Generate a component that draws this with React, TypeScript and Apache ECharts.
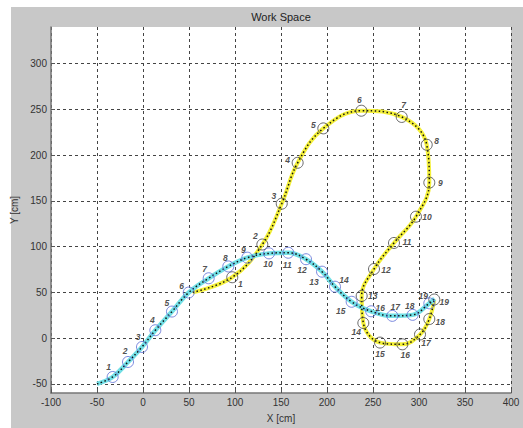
import React, { useEffect, useRef } from "react";
import * as echarts from "echarts";

const xTicks = [-100, -50, 0, 50, 100, 150, 200, 250, 300, 350, 400];
const yTicks = [-50, 0, 50, 100, 150, 200, 250, 300];

// cyan trajectory (blue circle markers 1..19)
const cyanStart = [-50, -50];
const cyanMarkers = [
  [-33, -42.5], [-16.3, -26.1], [-1.1, -9.7], [13.4, 8.6], [31.5, 29],
  [49.7, 49.8], [71.4, 65.4], [92.7, 78.3], [113.4, 87.9], [137, 92.6],
  [157.9, 93.3], [177.2, 86.2], [194.6, 72.6], [208.7, 56.2], [226.8, 39.7],
  [248, 29.3], [271, 24.3], [293.1, 25.4], [311.2, 38],
];
const cyanEnd = [317, 43];

// yellow trajectory (black circle markers 1..19)
const yellowStart = [54, 50];
const yellowMarkers = [
  [97, 66.5], [129.7, 102.3], [150.8, 146.9], [168.1, 191.6], [196, 229.2],
  [237.3, 248.5], [281.2, 241.7], [308.4, 211.3], [311.2, 169.9], [296.7, 132.7],
  [272.8, 104], [251.1, 75.5], [237.7, 46.1], [239.5, 16.5], [257.6, -4.9],
  [281.9, -6.8], [301.1, 4], [311.2, 20.8], [316.6, 42.2],
];

// label offsets (pixels) of the point numbers
const cyanLabelOffsets = [
  [-4, -10], [-3, -11], [-4, -10], [-3, -10], [-5, -9], [-7, -7], [-4, -9],
  [-3, -8], [-4, -8], [-1, 11], [-1, 12], [-4, 11], [-8, 10], [9, -7],
  [-11, 9], [9, -3], [3, -9], [-3, -9], [-6, -7],
];
const yellowLabelOffsets = [
  [8, 7], [-7, -8], [-8, -8], [-10, -3], [-10, -3], [-2, -11], [2, -12],
  [10, -4], [11, 0], [11, 0], [13, -1], [12, 1], [11, 0], [-7, 9],
  [0, 11], [3, 11], [6, 9], [11, 3], [10, 3],
];

const FONT = "Liberation Sans, Arial, sans-serif";

function markerSeries(pts: number[][], offs: number[][], color: string) {
  return {
    type: "scatter",
    z: 5,
    symbol: "circle",
    symbolSize: 11,
    itemStyle: { color: "rgba(0,0,0,0)", borderColor: color, borderWidth: 1 },
    label: {
      show: true,
      position: "inside",
      fontSize: 8.5,
      fontStyle: "italic",
      fontWeight: "bold",
      fontFamily: FONT,
      color: "#222",
    },
    data: pts.map((p, i) => ({
      value: p,
      label: { offset: offs[i], formatter: String(i + 1) },
    })),
  };
}

export default function App() {
  const ref = useRef<HTMLDivElement>(null);
  useEffect(() => {
    if (!ref.current) return;
    const chart = echarts.init(ref.current, null, { renderer: "svg" });
    const cyanLine = [cyanStart, ...cyanMarkers, cyanEnd];
    const yellowLine = [yellowStart, ...yellowMarkers];
    const axisText = { color: "#333", fontSize: 10, fontFamily: FONT };
    chart.setOption({
      animation: false,
      backgroundColor: "#fff",
      graphic: [
        {
          type: "rect",
          z: -10,
          silent: true,
          shape: { x: 11, y: 7, width: 512, height: 421 },
          style: { fill: "#c8c8c8" },
        },
        {
          type: "text",
          x: 281,
          y: 17,
          style: {
            text: "Work Space",
            fill: "#222",
            fontSize: 11,
            fontFamily: FONT,
            textAlign: "center",
            textVerticalAlign: "middle",
          },
        },
      ],
      grid: {
        left: 51,
        top: 27,
        width: 460,
        height: 373,
        show: true,
        backgroundColor: "#fff",
        borderWidth: 0,
      },
      xAxis: {
        type: "value",
        min: -100,
        max: 400,
        interval: 50,
        name: "X [cm]",
        nameLocation: "middle",
        nameGap: 20,
        nameTextStyle: axisText,
        axisLine: { show: true, onZero: false, lineStyle: { color: "#777", width: 1.5 } },
        axisTick: { show: true, inside: true, length: 4, lineStyle: { color: "#555" } },
        axisLabel: { ...axisText, margin: 4, formatter: (v: number) => String(v) },
        splitLine: {
          show: true,
          lineStyle: { color: "#444", type: [3, 3], width: 1 },
        },
      },
      yAxis: {
        type: "value",
        min: -60,
        max: 340,
        name: "Y [cm]",
        nameLocation: "middle",
        nameGap: 22,
        nameRotate: 90,
        nameTextStyle: axisText,
        axisLine: { show: true, onZero: false, lineStyle: { color: "#777", width: 1.5 } },
        axisTick: {
          show: true,
          inside: true,
          length: 4,
          customValues: yTicks,
          lineStyle: { color: "#555" },
        },
        axisLabel: { ...axisText, margin: 4, customValues: yTicks },
        splitLine: {
          show: true,
          lineStyle: { color: "#444", type: [3, 3], width: 1 },
        },
      },
      series: [
        {
          type: "line",
          data: yellowLine,
          smooth: 0.4,
          symbol: "none",
          lineStyle: { color: "#f4f03a", width: 4 },
          z: 2,
        },
        {
          type: "line",
          data: yellowLine,
          smooth: 0.4,
          symbol: "none",
          lineStyle: { color: "#111", width: 1.5, type: [1.5, 2.5] },
          z: 3,
        },
        {
          type: "line",
          data: cyanLine,
          smooth: 0.4,
          symbol: "none",
          lineStyle: { color: "#72e0e6", width: 4.5 },
          z: 2,
        },
        {
          type: "line",
          data: cyanLine,
          smooth: 0.4,
          symbol: "none",
          lineStyle: { color: "#111", width: 1.5, type: [1.5, 2.5] },
          z: 3,
        },
        markerSeries(yellowMarkers, yellowLabelOffsets, "#444"),
        markerSeries(cyanMarkers, cyanLabelOffsets, "#5a6cd6"),
      ],
    });
    return () => chart.dispose();
  }, []);
  return (
    <div
      ref={ref}
      style={{ position: "fixed", left: 0, top: 0, width: 523, height: 428 }}
    />
  );
}
